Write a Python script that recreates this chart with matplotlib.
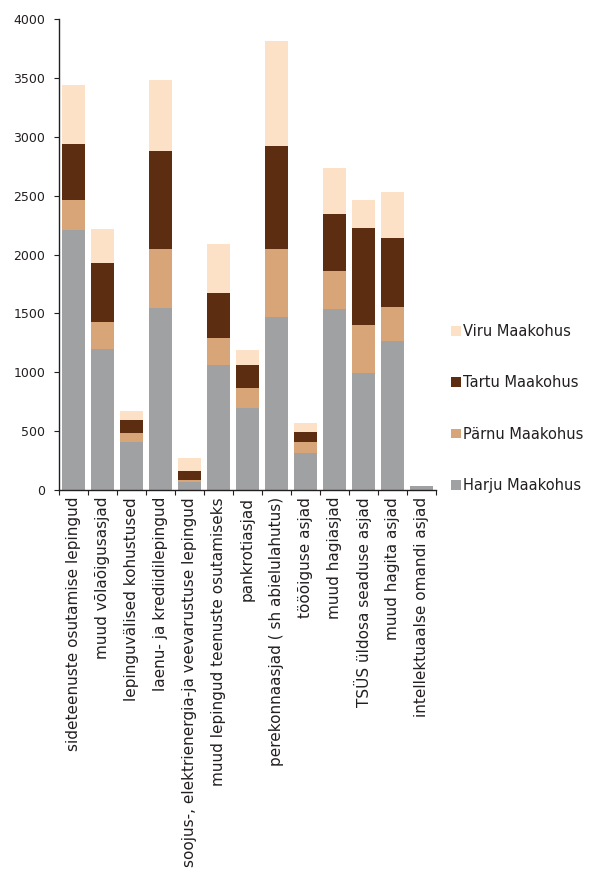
import matplotlib
matplotlib.use("Agg")
import matplotlib.pyplot as plt
import numpy as np

categories = [
    "sideteenuste osutamise lepingud",
    "muud võlaõigusasjad",
    "lepinguvälised kohustused",
    "laenu- ja krediidilepingud",
    "soojus-, elektrienergia-ja veevarustuse lepingud",
    "muud lepingud teenuste osutamiseks",
    "pankrotiasjad",
    "perekonnaasjad ( sh abielulahutus)",
    "tööõiguse asjad",
    "muud hagiasjad",
    "TSÜS üldosa seaduse asjad",
    "muud hagita asjad",
    "intellektuaalse omandi asjad",
]
harju = [2209, 1199, 410, 1547, 65, 1064, 699, 1471, 317, 1539, 996, 1267, 37]
parnu = [255, 230, 77, 501, 20, 229, 169, 577, 93, 322, 407, 289, 0]
tartu = [475, 500, 110, 832, 79, 382, 196, 874, 85, 484, 823, 585, 0]
viru = [501, 289, 76, 602, 110, 416, 127, 891, 76, 390, 238, 391, 0]

series_names = ["Harju Maakohus", "Pärnu Maakohus", "Tartu Maakohus", "Viru Maakohus"]
colors = ["#A0A1A3", "#D7A577", "#5C2D11", "#FCE1C6"]
y_ticks = [0, 500, 1000, 1500, 2000, 2500, 3000, 3500, 4000]

plt.rcParams['font.family'] = ['DejaVu Sans']
text_color = "#231F20"

fig = plt.figure(figsize=(5.94, 8.73), dpi=100)
ax = fig.add_axes([0.0988, 0.4387, 0.635, 0.5395])

x = np.arange(len(categories))
bottom = np.zeros(len(categories))
handles = []
for name, vals, c in zip(series_names, [harju, parnu, tartu, viru], colors):
    b = ax.bar(x, vals, width=0.79, bottom=bottom, color=c, label=name, linewidth=0)
    bottom += np.array(vals)
    handles.append(b)

ax.set_xlim(-0.5, len(categories) - 0.5)
ax.set_ylim(0, 4000)
ax.set_yticks(y_ticks)
ax.set_yticklabels([str(v) for v in y_ticks], fontsize=9, color=text_color)
ax.set_xticks(np.arange(len(categories) + 1) - 0.5)
ax.set_xticklabels([])
ax.set_xticks(x, minor=True)
ax.set_xticklabels(categories, minor=True, rotation=90, fontsize=11, color=text_color)
ax.tick_params(axis='x', which='minor', length=0, pad=5)
ax.tick_params(axis='x', which='major', length=3.6, direction='out', color=text_color)
ax.tick_params(axis='y', length=3.6, direction='out', color=text_color, pad=6)
for s in ['top', 'right']:
    ax.spines[s].set_visible(False)
for s in ['left', 'bottom']:
    ax.spines[s].set_color(text_color)
    ax.spines[s].set_linewidth(1.0)

leg = fig.legend(handles[::-1], series_names[::-1], loc='center left',
                 bbox_to_anchor=(0.7375, 0.532), frameon=False, fontsize=10.5,
                 handlelength=0.64, handleheight=0.64, handletextpad=0.2,
                 labelspacing=2.5)
for t in leg.get_texts():
    t.set_color(text_color)

fig.savefig("out.png", dpi=100)
